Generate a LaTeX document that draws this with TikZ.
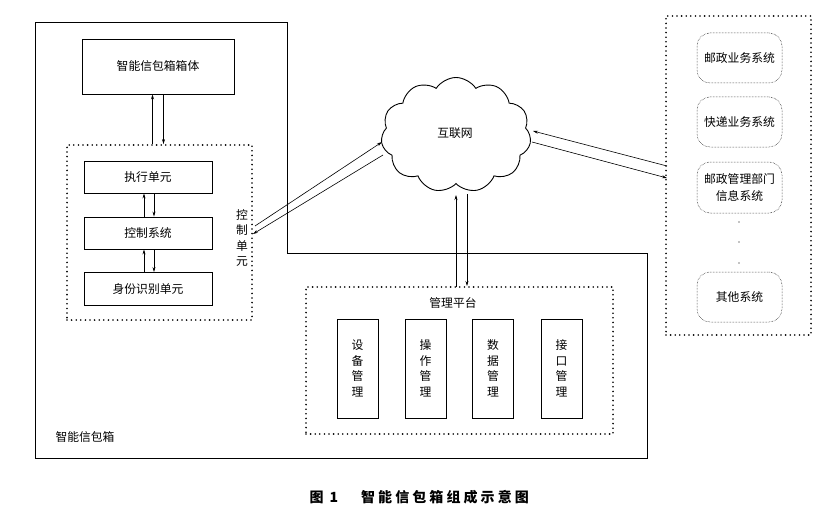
\documentclass[tikz,border=0pt]{standalone}
\usepackage{fontspec}
\newfontfamily\cjk{Noto Sans CJK SC}
\newfontfamily\capfont{Noto Sans CJK SC}[LetterSpace=22]
\usetikzlibrary{arrows.meta,shapes.symbols}
\begin{document}
\begin{tikzpicture}[x=1pt,y=-1pt,
  every node/.style={font=\cjk\fontsize{11.8}{13}\selectfont},
  box/.style={draw, line width=0.9pt, inner sep=0pt},
  dotbox/.style={draw, line width=1.8pt, dash pattern=on 0pt off 4.6pt, line cap=round, inner sep=0pt},
  sysbox/.style={draw, line width=0.5pt, densely dotted, rounded corners=13pt, inner sep=0pt, minimum width=85pt, align=center},
  vtext/.style={align=center, inner sep=0pt, font=\cjk\fontsize{11.8}{15.5}\selectfont},
  arr/.style={-{Stealth[length=5pt,width=3pt]}, line width=0.6pt}]
\useasboundingbox (0,0) rectangle (839,519);

% smart box outline
\draw[line width=0.9pt] (35,22) -- (287,22) -- (287,253) -- (647,253) -- (647,458) -- (35,458) -- cycle;
\node (smartlbl) at (85,437) {智能信包箱};

% body
\node[box, minimum width=152pt, minimum height=55pt] (body) at (158,66.5) {智能信包箱箱体};

% control region
\node[dotbox, minimum width=185pt, minimum height=175pt] (ctrlreg) at (159.5,232.5) {};
\node[box, minimum width=128pt, minimum height=32pt] (exec) at (148,177) {执行单元};
\node[box, minimum width=128pt, minimum height=32pt] (ctrlsys) at (148,233) {控制系统};
\node[box, minimum width=128pt, minimum height=33pt] (idu) at (148,289) {身份识别单元};
\node[vtext] (ctrllbl) at (242,238) {控\\制\\单\\元};

\draw[arr] ([xshift=-5.5pt]ctrlreg.north -| body.south) -- ([xshift=-5.5pt]body.south);
\draw[arr] ([xshift=5.5pt]body.south) -- ([xshift=5.5pt]body.south |- ctrlreg.north);
\draw[arr] ([xshift=-4pt]ctrlsys.north) -- ([xshift=-4pt]exec.south);
\draw[arr] ([xshift=6pt]exec.south) -- ([xshift=6pt]ctrlsys.north);
\draw[arr] ([xshift=-4pt]idu.north) -- ([xshift=-4pt]ctrlsys.south);
\draw[arr] ([xshift=6pt]ctrlsys.south) -- ([xshift=6pt]idu.north);

% cloud
\node[cloud, draw, line width=0.9pt, cloud puffs=11, cloud puff arc=115, cloud ignores aspect, minimum width=150pt, minimum height=115pt, inner sep=0pt] (net) at (456,135) {};
\node (netlbl) at (455,133) {互联网};

% management platform
\node[dotbox, minimum width=307pt, minimum height=147pt] (mgmt) at (459.5,360.5) {};
\node (mgmtlbl) at (453,303) {管理平台};
\node[box, minimum width=41pt, minimum height=99pt] (m1) at (357.5,368.5) {};
\node[box, minimum width=41pt, minimum height=99pt] (m2) at (425.5,368.5) {};
\node[box, minimum width=41pt, minimum height=99pt] (m3) at (493,368.5) {};
\node[box, minimum width=41pt, minimum height=99pt] (m4) at (561.5,368.5) {};
\node[vtext] at (m1) {设\\备\\管\\理};
\node[vtext] at (m2) {操\\作\\管\\理};
\node[vtext] at (m3) {数\\据\\管\\理};
\node[vtext] at (m4) {接\\口\\管\\理};

% external systems
\node[dotbox, minimum width=145pt, minimum height=319pt] (ext) at (738.5,175.5) {};
\node[sysbox, minimum height=50pt] (s1) at (739.5,58) {邮政业务系统};
\node[sysbox, minimum height=50pt] (s2) at (739.5,122) {快递业务系统};
\node[sysbox, minimum height=51pt, font=\cjk\fontsize{11.8}{17}\selectfont] (s3) at (739.5,187.5) {邮政管理部门\\信息系统};
\node[sysbox, minimum height=50pt] (s4) at (739.5,297) {其他系统};
\fill (739,222) circle (0.7);
\fill (739,242) circle (0.7);
\fill (739,263) circle (0.7);

% connectors cloud <-> control unit
\coordinate (a1) at (255,226);
\coordinate (b1) at (382,142);
\coordinate (a2) at (383,155);
\coordinate (b2) at (253,234);
\draw[arr] (a1) -- (b1);
\draw[arr] (a2) -- (b2);

% cloud <-> external
\coordinate (c1) at (667,166);
\coordinate (d1) at (533,131);
\coordinate (c2) at (532,142);
\coordinate (d2) at (667,178);
\draw[arr] (c1) -- (d1);
\draw[arr] (c2) -- (d2);

% cloud <-> management
\coordinate (e1) at (456,287);
\coordinate (f1) at (456,195);
\coordinate (e2) at (467,194);
\coordinate (f2) at (467,286);
\draw[arr] (e1) -- (f1);
\draw[arr] (e2) -- (f2);

% caption
\node[font=\capfont\bfseries\fontsize{14}{15}\selectfont] (cap1) at (324,497) {图\hspace{6pt}1};
\node[font=\capfont\bfseries\fontsize{14}{15}\selectfont] (cap2) at (445,497) {智能信包箱组成示意图};
\end{tikzpicture}
\end{document}
